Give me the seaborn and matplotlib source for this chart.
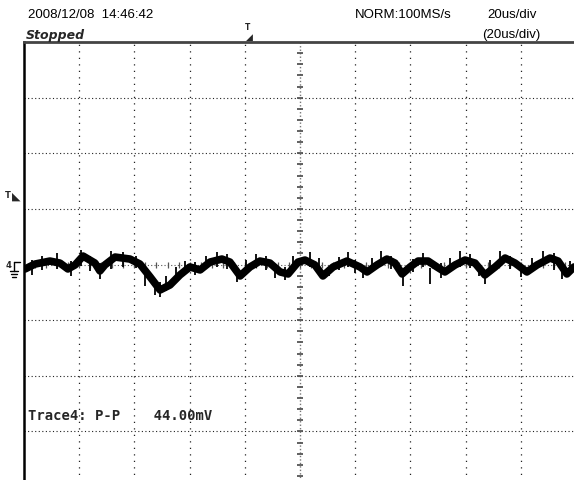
import matplotlib
matplotlib.use('Agg')
import matplotlib.pyplot as plt
import numpy as np
import pandas as pd
import seaborn as sns

# trace: time (us, trigger at 0), voltage (mV)
time_us = [-99.6, -96.0, -90.6, -87.0, -84.1, -81.5, -78.6, -74.3, -72.5, -70.7,
           -67.0, -61.6, -58.0, -54.3, -50.7, -47.1, -43.5, -39.9, -36.2, -32.6,
           -28.3, -25.4, -21.7, -18.1, -14.5, -10.9, -7.2, -4.3, -0.7, 1.8,
           5.4, 8.3, 12.0, 17.0, 21.7, 24.3, 27.9, 31.5, 34.4, 37.0,
           39.9, 42.8, 46.4, 49.6, 52.5, 56.2, 59.8, 63.4, 67.0, 70.7,
           74.3, 77.9, 82.2, 85.9, 90.6, 93.5, 96.7, 99.3]
volt_mv = [-4.0, 0.4, 3.1, 1.3, -4.0, -0.4, 7.6, 1.3, -5.8, -0.4,
           6.7, 4.9, 0.4, -11.2, -22.9, -18.4, -9.4, -2.2, -4.9, 2.2,
           4.9, 2.2, -10.3, -2.2, 3.1, 1.3, -6.7, -8.5, 2.2, 4.0,
           -0.4, -10.3, -2.2, 3.1, -2.2, -6.7, -0.4, 4.9, 1.3, -8.5,
           -2.2, 3.1, 3.1, -2.2, -6.7, -0.4, 4.0, 1.3, -9.4, -2.2,
           5.8, 1.3, -6.7, -0.4, 5.8, 3.1, -8.5, -2.2]

# noise spikes on the trace: time, low, high (mV)
spike_t = [-97.0, -93.5, -88.0, -83.0, -79.5, -76.0, -72.5, -68.5, -64.0, -59.5,
           -56.0, -52.5, -50.7, -48.5, -45.0, -41.5, -38.0, -34.0, -30.0, -26.5,
           -23.0, -19.5, -16.0, -12.5, -9.0, -5.5, -2.5, 3.5, 7.0, 10.5,
           14.0, 17.4, 20.0, 23.0, 26.0, 29.5, 33.0, 37.3, 41.0, 44.5,
           47.1, 51.0, 54.5, 58.0, 61.5, 65.0, 67.0, 69.0, 72.5, 76.0,
           80.0, 84.0, 88.0, 92.0, 95.0, 98.0]
spike_lo = [-9, -5, -4, -10, -1, -6, -13, -4, -2, -3,
            -19, -27, -29, -24, -15, -8, -9, -4, -2, -4,
            -16, -9, -3, -5, -12, -14, -5, -2, -7, -10,
            -5, -2, -8, -12, -7, -1, -4, -19, -7, -2,
            -17.5, -12, -7, -2, -3, -10, -17.5, -9, -2, -4,
            -11, -6, -1, -5, -13, -8]
spike_hi = [4, 8, 10, 3, 13, 8, 1, 12, 11, 8,
            -2, -14, -16, -10, -2, 3, 2, 8, 11, 9,
            -3, 4, 9, 8, -1, -2, 8, 11, 6, -3,
            7, 11, 4, -1, 6, 12, 8, -4, 5, 10,
            -3, 1, 6, 12, 9, -1, -5, 4, 12, 8,
            -1, 6, 12, 10, -1, 3]

header_left = '2008/12/08  14:46:42'
header_state = 'Stopped'
header_mode = 'NORM:100MS/s'
header_tdiv = '20us/div'
header_tdiv2 = '(20us/div)'
meas_text = 'Trace4: P-P    44.00mV'

trace_df = pd.DataFrame({'t': time_us, 'v': volt_mv})

sns.set_style('white')
fig = plt.figure(figsize=(5.74, 4.81), dpi=100)
W, H = 574.0, 481.0
# screen: 10 x 8 divisions, 20us/div, 50mV/div
ax = fig.add_axes([24 / W, (H - 488) / H, 552 / W, 445 / H])
ax.set_xlim(-100, 100)
ax.set_ylim(-200, 200)

# grid dots
for gx in np.arange(-80, 100, 20):
    if gx != 0:
        ax.axvline(gx, color='#222222', lw=0.9, ls=(0, (1, 4.2)), zorder=1)
for gy in np.arange(-150, 200, 50):
    if gy != 0:
        ax.axhline(gy, color='#222222', lw=0.8, ls=(0, (1, 2.2)), zorder=1)

# centre cross with minor ticks
ax.axvline(0, color='#777777', lw=1.0, ls=(0, (1, 1.5)), zorder=1)
ax.axhline(0, color='#555555', lw=0.8, ls=(0, (1, 2)), zorder=1)
minor_v = np.arange(-190, 200, 10)
ax.plot(np.zeros_like(minor_v), minor_v, ls='none', marker='_', ms=4.5, mew=1.3,
        color='#555555', zorder=1)
minor_t = np.arange(-96, 100, 4)
ax.plot(minor_t, np.zeros_like(minor_t), ls='none', marker='|', ms=4, mew=0.9,
        color='#555555', zorder=1)

# trace
sns.lineplot(data=trace_df, x='t', y='v', sort=False, color='black',
             lw=5.5, ax=ax, zorder=3)
ax.vlines(spike_t, spike_lo, spike_hi, color='black', lw=1.3, zorder=3)

for s in ['right', 'bottom']:
    ax.spines[s].set_visible(False)
ax.spines['left'].set_color('black')
ax.spines['left'].set_linewidth(1.8)
ax.spines['top'].set_color('#444444')
ax.spines['top'].set_linewidth(2.0)
ax.set_xticks([])
ax.set_yticks([])
ax.set_xlabel('')
ax.set_ylabel('')


def px(x, y):
    return x / W, 1 - y / H


hfont = dict(family='Liberation Sans', fontsize=9.5, color='black')
fig.text(*px(28, 15), header_left, va='center', ha='left', **hfont)
fig.text(*px(26, 35), header_state, va='center', ha='left', family='DejaVu Sans',
         fontsize=9, style='italic', fontweight='bold')
fig.text(*px(355, 15), header_mode, va='center', ha='left', **hfont)
fig.text(*px(487, 15), header_tdiv, va='center', ha='left', **hfont)
fig.text(*px(482, 35), header_tdiv2, va='center', ha='left', **hfont)

# trigger position marker at top
fig.text(*px(245, 28), 'T', va='center', ha='left', family='DejaVu Sans',
         fontsize=5.5, fontweight='bold')
fig.text(*px(246, 37), '\u25e2', va='center', ha='left', family='DejaVu Sans',
         fontsize=6.5)
# trigger level marker on the left
fig.text(*px(5, 196), 'T', va='center', ha='left', family='DejaVu Sans',
         fontsize=6, fontweight='bold')
fig.text(*px(12, 197), '\u25e3', va='center', ha='left', family='DejaVu Sans',
         fontsize=8)
# channel 4 ground marker
fig.text(*px(6, 266), '4', va='center', ha='left', family='DejaVu Sans',
         fontsize=6, fontweight='bold')
ground = [((14, 263), (20, 263)), ((14, 263), (14, 272)), ((10, 272), (18, 272)),
          ((11, 275), (17, 275)), ((12, 278), (16, 278))]
for (x0, y0), (x1, y1) in ground:
    fig.add_artist(plt.Line2D([x0 / W, x1 / W], [1 - y0 / H, 1 - y1 / H],
                              color='black', lw=1.0))

ax.text(-98.5, -135, meas_text, va='center', ha='left', family='DejaVu Sans Mono',
        fontsize=10, fontweight='bold', zorder=4)

fig.savefig('out.png', dpi=100)
plt.close()
